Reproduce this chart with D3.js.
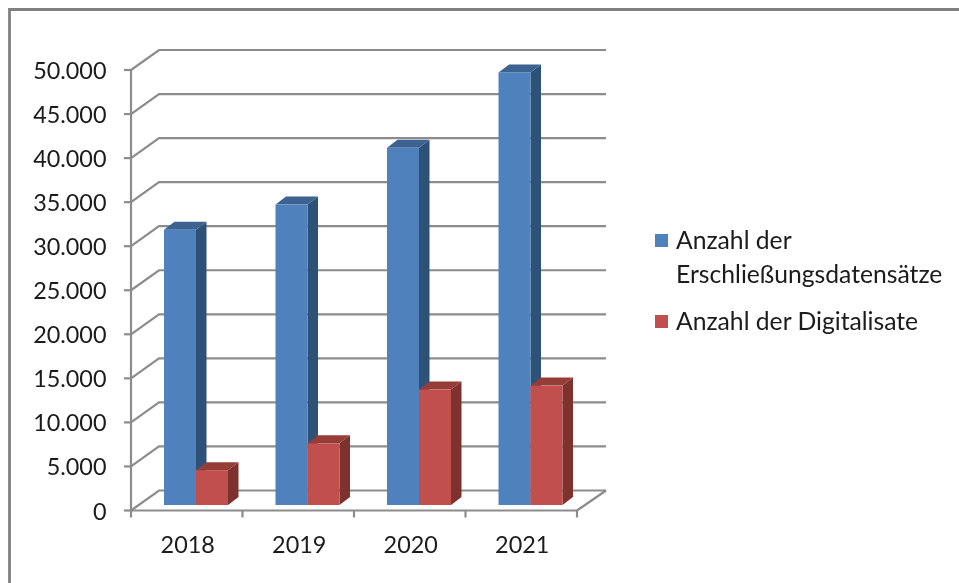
<!DOCTYPE html>
<html><head><meta charset="utf-8">
<script src="https://cdn.jsdelivr.net/npm/d3@7"></script>
<style>html,body{margin:0;background:#fff}svg{display:block}text{font-family:Lato,"Open Sans",sans-serif;fill:#1a1a1a}</style>
</head><body><div id="c"></div>
<script>
const years = ["2018","2019","2020","2021"];
const seriesNames = ["Anzahl der Erschließungsdatensätze","Anzahl der Digitalisate"];
const erschliessung = [31250,34100,40550,49100];
const digitalisate = [3950,7000,13100,13550];
const yTicks = [0,5000,10000,15000,20000,25000,30000,35000,40000,45000,50000];

const W=959,H=583;
const svg=d3.select("#c").append("svg").attr("width",W).attr("height",H);
const defs=svg.append("defs");
defs.append("filter").attr("id","soft").append("feGaussianBlur").attr("stdDeviation",0.5);
const root=svg.append("g").attr("filter","url(#soft)");

// frame
root.append("path").attr("d","M9.5,590V9.5H970").attr("fill","none").attr("stroke","#808080").attr("stroke-width",2.8);

const y=d3.scaleLinear().domain([0,50000]).range([510.5,70]);
const x=d3.scaleBand().domain(years).range([131,577]);
const backDx=28,backDy=-20;
const grid="#8c8c8c";

// gridlines: side wall + back wall
const g=root.append("g").attr("fill","none").attr("stroke",grid).attr("stroke-width",2.2);
yTicks.forEach(t=>{
  g.append("path").attr("d",`M${x.range()[0]},${y(t)}l${backDx},${backDy}H${x.range()[1]+backDx+1}`);
});
// floor right edge + front edge + axes
g.append("path").attr("d",`M${x.range()[1]},${y(0)}l${backDx+1},${backDy}`);
const ax=root.append("g").attr("fill","none").attr("stroke",grid).attr("stroke-width",2.2);
ax.append("path").attr("d",`M131,${y(50000)}V${y(0)}H577`);
yTicks.forEach(t=>ax.append("path").attr("d",`M124,${y(t)}H131`));
[...years.map(d=>x(d)),x.range()[1]].forEach(px=>ax.append("path").attr("d",`M${px},${y(0)}V${y(0)+7}`));

// labels
const fmt=v=>d3.format(",")(v).replace(/,/g,".");
root.append("g").selectAll("text").data(yTicks).join("text")
  .attr("x",106.5).attr("y",d=>y(d)+9).attr("text-anchor","end").attr("font-size",23.4).text(fmt);
root.append("g").selectAll("text").data(years).join("text")
  .attr("x",d=>x(d)+x.bandwidth()/2+1).attr("y",553).attr("text-anchor","middle").attr("font-size",23.4).text(d=>d);

// 3D bars
const barW=32,baseY=505,offs=33,dx=10.5,dy=-8;
const yBar=v=>y(v)-(y(0)-baseY);
function drawBar(px,v,front,top,side){
  const t=yBar(v),b=baseY;
  const gb=root.append("g");
  gb.append("path").attr("fill",side).attr("d",`M${px+barW},${t}l${dx},${dy}V${b+dy}l${-dx},${-dy}Z`);
  gb.append("path").attr("fill",top).attr("d",`M${px},${t}l${dx},${dy}h${barW}l${-dx},${-dy}Z`);
  gb.append("rect").attr("x",px).attr("y",t).attr("width",barW).attr("height",b-t).attr("fill",front);
}
years.forEach((yr,i)=>{
  const px=x(yr)+offs;
  drawBar(px,erschliessung[i],"#4f81bd","#3b6291","#2f5178");
  drawBar(px+barW,digitalisate[i],"#c0504d","#963c39","#7d302e");
});

// legend
const leg=root.append("g");
leg.append("rect").attr("x",655).attr("y",234).attr("width",13).attr("height",13).attr("fill","#4f81bd");
leg.append("text").attr("x",676).attr("y",249).attr("font-size",24.7).text("Anzahl der");
leg.append("text").attr("x",676).attr("y",283).attr("font-size",24.7).text("Erschließungsdatensätze");
leg.append("rect").attr("x",655).attr("y",315).attr("width",13).attr("height",13).attr("fill","#c0504d");
leg.append("text").attr("x",676).attr("y",330).attr("font-size",24.7).text(seriesNames[1]);
</script></body></html>
